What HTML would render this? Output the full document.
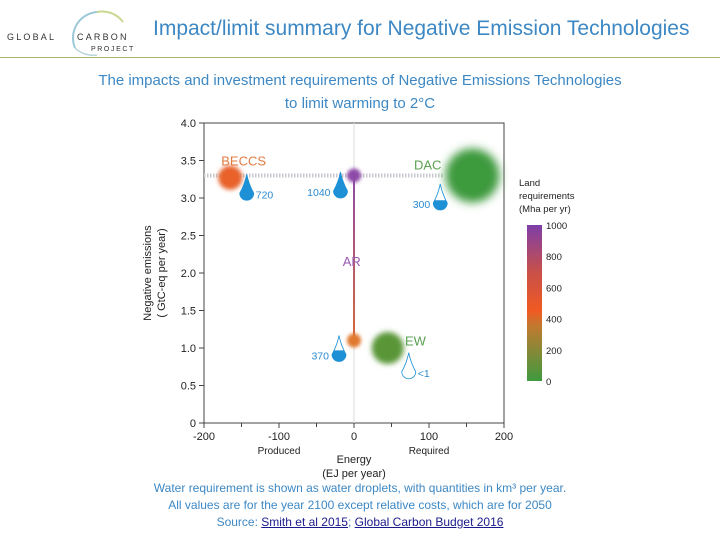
<!DOCTYPE html>
<html><head><meta charset="utf-8"><style>
body{margin:0;width:720px;height:540px;background:#fff;overflow:hidden;font-family:"Liberation Sans",sans-serif;position:relative}
.t{position:absolute;white-space:nowrap}
</style></head><body>
<div class="t" style="left:5px;top:4px;width:130px;height:50px">
<svg width="130" height="52"><path d="M92 8 A26 26 0 0 0 70 44" stroke="#9cc8d8" stroke-width="2" fill="none"/><path d="M92 8 A26 26 0 0 1 118 18" stroke="#c8d890" stroke-width="2" fill="none"/><path d="M70 44 A26 26 0 0 0 92 51" stroke="#b8d4dc" stroke-width="1.5" fill="none"/>
<text x="2" y="36" font-size="9" letter-spacing="2.2" fill="#333">GLOBAL</text><text x="72" y="36" font-size="9" letter-spacing="2.2" fill="#333">CARBON</text><text x="86" y="47" font-size="7" letter-spacing="1.6" fill="#333">PROJECT</text></svg></div>
<div class="t" style="left:153px;top:17px;font-size:21px;color:#3d88c4;font-family:'Liberation Sans',sans-serif">Impact/limit summary for Negative Emission Technologies</div>
<div style="position:absolute;left:0;top:57px;width:720px;height:1px;background:#a8b870"></div>
<div class="t" style="left:0;width:720px;top:69px;text-align:center;font-size:15px;line-height:23px;color:#3d88c4">The impacts and investment requirements of Negative Emissions Technologies<br>to limit warming to 2°C</div>
<svg id="c" style="position:absolute;left:0;top:0" width="720" height="540"></svg>
<div class="t" style="left:0;width:720px;top:480px;text-align:center;font-size:12px;line-height:17px;color:#3d88c4">Water requirement is shown as water droplets, with quantities in km³ per year.<br>All values are for the year 2100 except relative costs, which are for 2050<br>Source: <a style="color:#1a1a8c;text-decoration:underline">Smith et al 2015</a>; <a style="color:#1a1a8c;text-decoration:underline">Global Carbon Budget 2016</a></div>
<script>
const techs=['BECCS','AR-top','AR-bottom','DAC','EW'];
const energy=[-165,0,0,158,45];
const emissions=[3.27,3.3,1.1,3.3,1.0];
const radii=[12,7,7,27,16];
const colors=['#e8622a','#8e4aa8','#e0782e','#3e9a3e','#5a9638'];
const labels=['BECCS','DAC','AR','EW'];
const labelX=[-177,80,-15,68];
const labelY=[3.5,3.45,2.16,1.1];
const labelColors=['#e07a40','#5aa050','#9a5ab0','#5aa050'];
const waterVals=['720','1040','300','370','<1'];
const waterX=[-143,-18,115,-20,73];
const waterY=[3.05,3.08,2.92,0.9,0.67];
const waterFill=[1,1,0.4,0.45,0];
const xTicks=[-200,-100,0,100,200];
const yTicks=[0,0.5,1.0,1.5,2.0,2.5,3.0,3.5,4.0];
const cbTicks=[0,200,400,600,800,1000];
const L=204,R=504,T=123,B=423;
const X=v=>L+(v+200)/400*(R-L);
const Y=v=>B-v/4*(B-T);
const svg=document.getElementById('c');const NS='http://www.w3.org/2000/svg';
function mk(t,a,p){const e=document.createElementNS(NS,t);for(const k in a)e.setAttribute(k,a[k]);(p||svg).appendChild(e);return e;}
function tx(x,y,s,a){const e=mk('text',Object.assign({x:x,y:y,'font-family':'Liberation Sans, sans-serif'},a));e.textContent=s;return e;}
const defs=mk('defs',{});
const g=mk('linearGradient',{id:'cb',x1:0,y1:1,x2:0,y2:0},defs);
[['0','#3e9a3e'],['0.35','#c07a30'],['0.45','#f05a22'],['0.7','#c8504a'],['1','#7e3ea8']].forEach(s=>mk('stop',{offset:s[0],'stop-color':s[1]},g));
let e=mk('rect',{x:L,y:T,width:R-L,height:B-T,fill:'none',stroke:'#444','stroke-width':1});

e=mk('line',{x1:X(0),y1:T,x2:X(0),y2:B,stroke:'#ddd'});

xTicks.forEach(v=>{e=mk('line',{x1:X(v),y1:B,x2:X(v),y2:B+5,stroke:'#444'});
e=tx(X(v),B+17,String(v),{'font-size':11,'text-anchor':'middle',fill:'#222'});});
[-150,-50,50,150].forEach(v=>{mk('line',{x1:X(v),y1:B,x2:X(v),y2:B+4,stroke:'#444'});});
yTicks.forEach(v=>{e=mk('line',{x1:L-5,y1:Y(v),x2:L,y2:Y(v),stroke:'#444'});
e=tx(L-8,Y(v)+4,v===0?'0':v.toFixed(1),{'font-size':11,'text-anchor':'end',fill:'#222'});});
e=tx(X(-100),B+31,'Produced',{'font-size':10,'text-anchor':'middle',fill:'#222'});
e=tx(X(100),B+31,'Required',{'font-size':10,'text-anchor':'middle',fill:'#222'});
e=tx(X(0),B+40,'Energy',{'font-size':11,'text-anchor':'middle',fill:'#222'});
e=tx(X(0),B+54,'(EJ per year)',{'font-size':11,'text-anchor':'middle',fill:'#222'});
e=tx(0,0,'Negative emissions',{'font-size':11,'text-anchor':'middle',fill:'#222',transform:'translate(151,'+Y(2)+') rotate(-90)'});
e=tx(0,0,'( GtC-eq per year)',{'font-size':11,'text-anchor':'middle',fill:'#222',transform:'translate(165,'+Y(2)+') rotate(-90)'});
e=mk('line',{x1:X(-200),y1:Y(3.3),x2:X(120),y2:Y(3.3),stroke:'#c8c8d0','stroke-width':4,'stroke-dasharray':'1.5 1.5'});

const ag=mk('linearGradient',{id:'arg',x1:0,y1:0,x2:0,y2:1},defs);
mk('stop',{offset:0,'stop-color':'#8e4aa8'},ag);mk('stop',{offset:1,'stop-color':'#d8683a'},ag);
e=mk('rect',{x:X(energy[1])-1,y:Y(emissions[1]),width:2,height:Y(emissions[2])-Y(emissions[1]),fill:'url(#arg)'});

techs.forEach((t,i)=>{const f=mk('filter',{id:'bl'+i,x:'-60%',y:'-60%',width:'220%',height:'220%'},defs);
mk('feGaussianBlur',{stdDeviation:Math.max(1.8,radii[i]*0.17)},f);
e=mk('circle',{cx:X(energy[i]),cy:Y(emissions[i]),r:radii[i],fill:colors[i],filter:'url(#bl'+i+')'});
});
labels.forEach((s,i)=>{e=tx(X(labelX[i]),Y(labelY[i])+5,s,{'font-size':13,fill:labelColors[i]});
});
waterVals.forEach((s,i)=>{const cx=X(waterX[i]),cy=Y(waterY[i]);
const d=`M${cx} ${cy-20} Q${cx+2} ${cy-10} ${cx+7} ${cy-1} A7 7 0 1 1 ${cx-7} ${cy-1} Q${cx-2} ${cy-10} ${cx} ${cy-20} Z`;
const cp=mk('clipPath',{id:'cp'+i},defs);const top=cy+7-waterFill[i]*27;
mk('rect',{x:cx-9,y:top,width:18,height:30},cp);
const gg=mk('g',{});

mk('path',{d:d,fill:'#1e90d6','clip-path':'url(#cp'+i+')'},gg);
mk('path',{d:d,fill:'none',stroke:'#1e90d6','stroke-width':0.8},gg);
const right=(i===0||i===4);
e=tx(right?cx+9:cx-10,cy+4,s,{'font-size':10.5,fill:'#2a8ad0','text-anchor':right?'start':'end'});
});
const cT=225,cB=381;
e=mk('rect',{x:527,y:cT,width:15,height:cB-cT,fill:'url(#cb)'});

cbTicks.forEach(v=>{e=tx(546,cB-v/1000*(cB-cT)+4,String(v),{'font-size':9.5,fill:'#222'});
});
['Land','requirements','(Mha per yr)'].forEach((s,i)=>{e=tx(519,186+i*13,s,{'font-size':9.5,fill:'#222'});
});
</script>
</body></html>
